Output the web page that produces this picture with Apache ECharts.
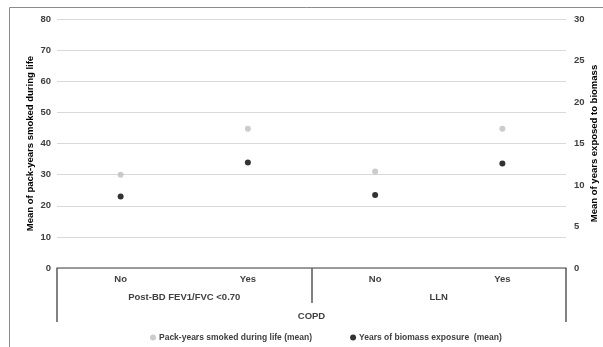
<!DOCTYPE html>
<html>
<head>
<meta charset="utf-8">
<script src="https://cdn.jsdelivr.net/npm/echarts@6/dist/echarts.min.js"></script>
<style>
  html, body { margin: 0; padding: 0; background: #fff; }
  #chart { width: 603px; height: 347px; }
</style>
</head>
<body>
<div id="chart"></div>
<script>
// categories
const answers = ['No', 'Yes', 'No', 'Yes'];
const criteria = ['Post-BD FEV1/FVC <0.70', 'LLN'];
const groupName = ['COPD'];

// series values
const packYears = [30.0, 44.7, 31.0, 44.7];     // left axis
const biomassYears = [8.6, 12.7, 8.8, 12.6];    // right axis

const leftTicks = { min: 0, max: 80, interval: 10 };
const rightTicks = { min: 0, max: 30, interval: 5 };

const font = '"Liberation Sans", Arial, sans-serif';
const txt = { fontFamily: font, fontSize: 9.5, fontWeight: 'bold', color: '#404040' };

const chart = echarts.init(document.getElementById('chart'));
chart.setOption({
    animation: false,
    grid: { left: 57, right: 37, top: 19, bottom: 79, outerBoundsMode: 'none', containLabel: false },
    graphic: [{
        type: 'rect',
        shape: { x: 9.5, y: 7.5, width: 640, height: 400 },
        style: { fill: 'none', stroke: '#8c8c8c', lineWidth: 1 },
        silent: true
    }],
    legend: {
        top: 328,
        left: 145,
        icon: 'circle',
        itemWidth: 6,
        itemHeight: 6,
        itemGap: 38,
        textStyle: { ...txt, fontSize: 8.5, padding: [0, 0, 0, -2] },
        data: ['Pack-years smoked during life (mean)', 'Years of biomass exposure  (mean)']
    },
    xAxis: [{
        type: 'category',
        data: answers,
        position: 'bottom',
        axisLine: { lineStyle: { color: '#7f7f7f', width: 1.5 } },
        axisTick: { show: false },
        axisLabel: { ...txt, margin: 6 }
    }, {
        type: 'category',
        data: criteria,
        position: 'bottom',
        axisLine: { show: false },
        axisTick: { show: true, length: 35, lineStyle: { color: '#595959', width: 1.5 } },
        axisLabel: { ...txt, margin: 24 }
    }, {
        type: 'category',
        data: groupName,
        position: 'bottom',
        axisLine: { show: false },
        axisTick: { show: true, length: 54, lineStyle: { color: '#595959', width: 1.5 } },
        axisLabel: { ...txt, margin: 43 }
    }],
    yAxis: [{
        type: 'value',
        ...leftTicks,
        name: 'Mean of pack-years smoked during life',
        nameLocation: 'middle',
        nameRotate: 90,
        nameGap: 22,
        nameMoveOverlap: false,
        nameTextStyle: { ...txt, color: '#000' },
        axisLine: { show: false },
        axisTick: { show: false },
        axisLabel: { ...txt, margin: 6 },
        splitLine: { lineStyle: { color: '#d9d9d9', width: 1 } }
    }, {
        type: 'value',
        ...rightTicks,
        position: 'right',
        name: 'Mean of years exposed to biomass',
        nameLocation: 'middle',
        nameRotate: 90,
        nameGap: 23,
        nameMoveOverlap: false,
        nameTextStyle: { ...txt, color: '#000' },
        axisLine: { show: false },
        axisTick: { show: false },
        axisLabel: { ...txt, margin: 8 },
        splitLine: { show: false }
    }],
    series: [{
        name: 'Pack-years smoked during life (mean)',
        type: 'scatter',
        yAxisIndex: 0,
        symbolSize: 6,
        itemStyle: { color: '#bfbfbf' },
        data: packYears
    }, {
        name: 'Years of biomass exposure  (mean)',
        type: 'scatter',
        yAxisIndex: 1,
        symbolSize: 6,
        itemStyle: { color: '#000' },
        data: biomassYears
    }]
});
</script>
</body>
</html>
